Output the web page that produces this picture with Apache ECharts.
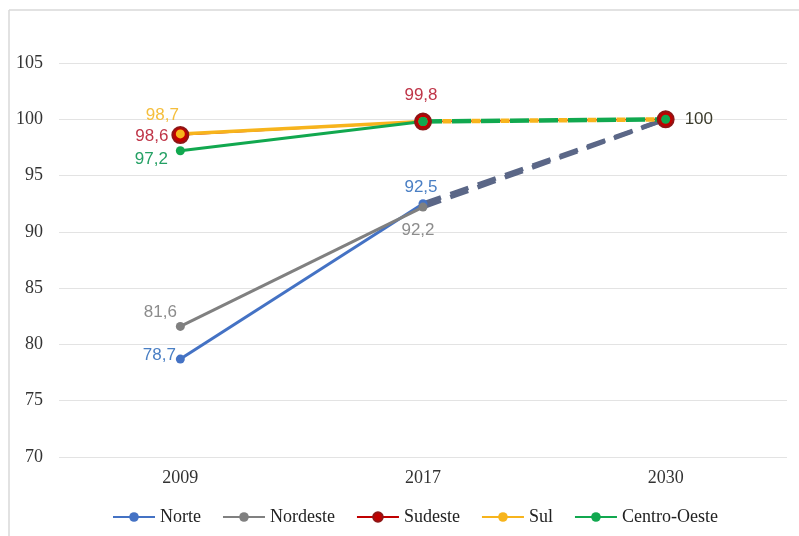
<!DOCTYPE html>
<html>
<head>
<meta charset="utf-8">
<script src="https://cdn.jsdelivr.net/npm/echarts@6/dist/echarts.min.js"></script>
<style>
  html, body { margin: 0; padding: 0; background: #fff; }
  #chart { width: 799px; height: 536px; }
</style>
</head>
<body>
<div id="chart"></div>
<script>
// Years on the x axis
const years = ['2009', '2017', '2030'];
// Y axis range and step
const yMin = 70, yMax = 105, yStep = 5;

// Observed values (2009, 2017) and target (2030) per region
const norte = [78.7, 92.5, 100];
const nordeste = [81.6, 92.2, 100];
const sudeste = [98.6, 99.8, 100];
const sul = [98.7, 99.8, 100];
const centroOeste = [97.2, 99.8, 100];

const regionNames = ['Norte', 'Nordeste', 'Sudeste', 'Sul', 'Centro-Oeste'];

const C = {
  norte: '#4472c4', nordeste: '#808080', sudeste: '#c00000',
  sul: '#f7b41c', centro: '#11a84f', proj: '#5b6787'
};

const serif = '"Liberation Serif", "DejaVu Serif", serif';
const sans = '"Liberation Sans", Arial, sans-serif';
const fmt = p => String(p.value).replace('.', ',');

function lbl(color, position, distance, offset) {
  return { show: true, position, distance, offset, color, fontFamily: sans,
           fontSize: 17, formatter: fmt };
}
const noLabel = { show: false };

// Solid part: 2009 -> 2017
function solidPart(vals, labels) {
  return [0, 1].map(i => ({ value: vals[i], label: labels[i] || noLabel })).concat(['-']);
}
// Dashed part: 2017 -> 2030
function dashedPart(vals) {
  return ['-', vals[1], vals[2]];
}

const solid = (name, data, color, width, symbolSize, extra) => Object.assign({
  name, type: 'line', data, color, symbol: 'circle', symbolSize,
  showSymbol: true, lineStyle: { width, color }, itemStyle: { color },
  emphasis: { disabled: true }, animation: false
}, extra || {});

const dashed = (name, data, color, dash, offset, extra) => Object.assign({
  name, type: 'line', data, showSymbol: false, symbol: 'none',
  lineStyle: { width: 4.5, color, type: dash, dashOffset: offset },
  emphasis: { disabled: true }, animation: false
}, extra || {});

const sudesteItem = { color: C.sudeste, borderColor: '#8e1616', borderWidth: 2 };

const series = [
  dashed('Norte projeção', dashedPart(norte), C.proj, [19, 10], 0),
  dashed('Nordeste projeção', dashedPart(nordeste), C.proj, [19, 10], 0),
  solid('Norte', solidPart(norte, [
    lbl('#4a7fc4', 'left', 0, [0, -4]),
    lbl('#4a7fc4', 'top', 3, [-2, 0])
  ]), C.norte, 3, 9),
  solid('Nordeste', solidPart(nordeste, [
    lbl('#8c8c8c', 'top', 1, [-20, 0]),
    lbl('#8c8c8c', 'bottom', 10, [-5, 0])
  ]), C.nordeste, 3, 9),
  // Sudeste: markers at all three years; its 2017 -> 2030 segment lies under Centro-Oeste
  solid('Sudeste', [
    { value: sudeste[0], label: lbl('#bf3548', 'left', 3, [0, 1]) },
    { value: sudeste[1], label: lbl('#bf3548', 'top', 9, [-2, 0]) },
    { value: sudeste[2], label: lbl('#3b3b2c', 'right', 10, [0, 0]) }
  ], C.sudeste, 1.5, 16, { itemStyle: sudesteItem }),
  solid('Sul', solidPart(sul, [
    lbl('#f5be3c', 'top', 6, [-18, 0])
  ]), C.sul, 3.5, 9),
  dashed('Sul projeção', dashedPart(sul), C.sul, [9, 20], 9.5),
  solid('Centro-Oeste', solidPart(centroOeste, [
    lbl('#24a064', 'left', 8, [0, 9])
  ]), C.centro, 3, 9),
  dashed('Centro-Oeste projeção', dashedPart(centroOeste), C.centro, [19, 10], 0, {
    showSymbol: true, symbol: 'circle', symbolSize: 9, itemStyle: { color: C.centro }
  })
];

const chart = echarts.init(document.getElementById('chart'), null, { renderer: 'canvas' });
chart.setOption({
  backgroundColor: '#ffffff',
  animation: false,
  graphic: [
    { type: 'line', shape: { x1: 9, y1: 10, x2: 799, y2: 10 }, style: { stroke: '#d9d9d9', lineWidth: 1.5 } },
    { type: 'line', shape: { x1: 9, y1: 10, x2: 9, y2: 536 }, style: { stroke: '#d9d9d9', lineWidth: 1.5 } }
  ],
  grid: { left: 59, right: 12, top: 63, bottom: 79 },
  legend: {
    data: regionNames,
    left: 107, top: 503,
    itemWidth: 42, itemHeight: 12, itemGap: 21,
    textStyle: { fontFamily: serif, fontSize: 18, color: '#222' }
  },
  xAxis: {
    type: 'category', data: years, boundaryGap: true,
    axisLine: { show: false }, axisTick: { show: false },
    axisLabel: { fontFamily: serif, fontSize: 18, color: '#333', margin: 12 }
  },
  yAxis: {
    type: 'value', min: yMin, max: yMax, interval: yStep,
    axisLine: { show: false }, axisTick: { show: false },
    splitLine: { lineStyle: { color: '#e3e3e3', width: 1 } },
    axisLabel: { fontFamily: serif, fontSize: 18, color: '#333', margin: 16 }
  },
  series
});
</script>
</body>
</html>
